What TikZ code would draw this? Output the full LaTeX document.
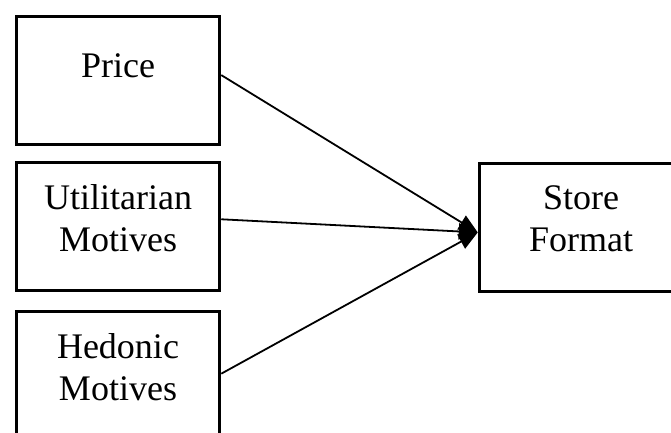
\documentclass[tikz,border=0pt]{standalone}
\usepackage{fontspec}
\setmainfont{Liberation Serif}
\usetikzlibrary{arrows.meta}
\tikzset{
  varbox/.style={draw, line width=3pt, minimum width=203.5pt, minimum height=128pt, inner sep=0pt},
  boxtext/.style={align=center, font=\fontsize{36}{42}\selectfont},
  link/.style={line width=1.8pt, -{Triangle[length=19pt, width=16pt]}}
}
\begin{document}
\begin{tikzpicture}[x=1pt, y=-1pt]
\useasboundingbox (0,0) rectangle (671,433);
\clip (0,0) rectangle (671,433);
\node[varbox, label={[boxtext, yshift=14.5pt]center:Price}] (price) at (118,80.5) {};
\node[varbox, label={[boxtext, yshift=8pt]center:Utilitarian\\Motives}] (util) at (118,226.5) {};
\node[varbox, label={[boxtext, yshift=8.5pt]center:Hedonic\\Motives}] (hedonic) at (118,375.5) {};
\node[varbox, label={[boxtext, yshift=8pt]center:Store\\Format}] (store) at (581,227) {};
\draw[link] (price.3) -- (store.183);
\draw[link] (util.4) -- (store.183);
\draw[link] (hedonic.1) -- (store.183);
\end{tikzpicture}
\end{document}
